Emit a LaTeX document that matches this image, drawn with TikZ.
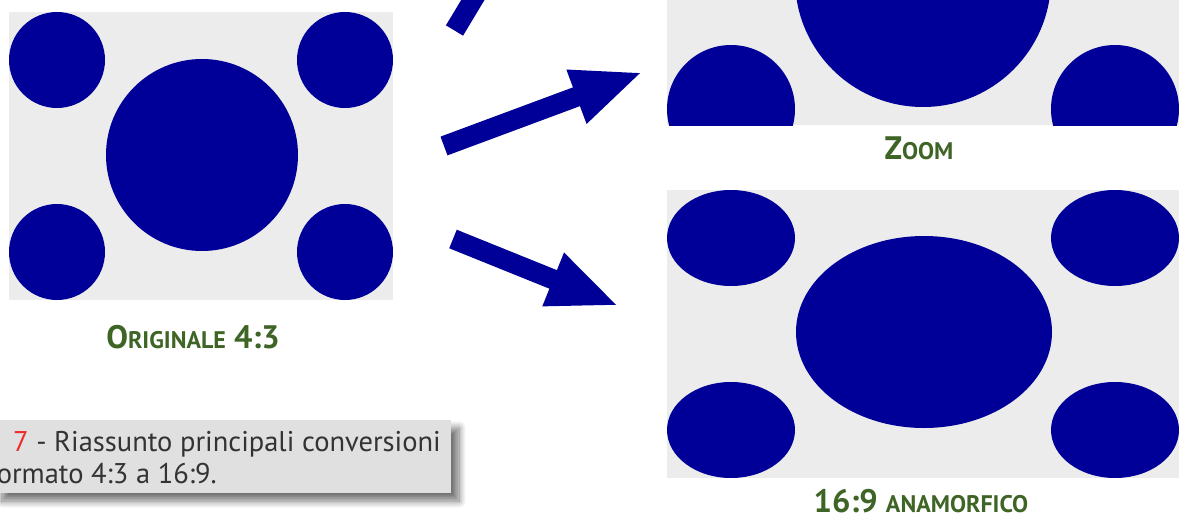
\documentclass[tikz,border=0pt]{standalone}
\usepackage{fontspec}
\setmainfont{PT Sans}
\usetikzlibrary{arrows.meta,shadows.blur}
\definecolor{navy}{HTML}{000099}
\definecolor{panelgray}{HTML}{ECECEC}
\definecolor{labelgreen}{HTML}{3E6426}
\definecolor{captiongray}{HTML}{E0E0E0}
\definecolor{captiontext}{HTML}{333333}
\definecolor{figred}{HTML}{F02828}
\newcommand\capsz{\fontsize{32.5}{38}\selectfont}
\newcommand\scsz{\fontsize{24}{28}\selectfont}
\begin{document}
\begin{tikzpicture}[x=1pt,y=-1pt,
  panel/.style={fill=panelgray, draw=none, inner sep=0pt, outer sep=0pt},
  disc/.style={fill=navy, draw=none},
  label/.style={text=labelgreen, font=\bfseries\capsz, inner sep=0pt, anchor=base},
  bigarrow/.style={draw=navy, line width=20pt, -{Triangle[length=71pt,width=52pt]}},
  capbox/.style={fill=captiongray, draw=none, inner sep=0pt,
    blur shadow={shadow xshift=8pt, shadow yshift=-8pt, shadow blur radius=7pt,
      shadow blur steps=12, shadow opacity=55}},
  captext/.style={text=captiontext, font=\fontsize{28.5}{34}\selectfont, inner sep=0pt}]
\useasboundingbox (0,0) rectangle (1179,519);
\clip (0,0) rectangle (1179,519);

% original 4:3 frame
\node[panel, minimum width=384pt, minimum height=288pt] (orig) at (201,156) {};
\fill[disc] (57,60) circle [radius=48];
\fill[disc] (345,60) circle [radius=48];
\fill[disc] (57,252) circle [radius=48];
\fill[disc] (345,252) circle [radius=48];
\fill[disc] (202,155) circle [radius=96];
\node[label] (origlabel) at (193,348) {O{\scsz RIGINALE} 4:3};

% zoomed frame (cropped top and bottom)
\node[panel, minimum width=512pt, minimum height=288pt] (zoom) at (923,-19) {};
\begin{scope}
  \clip (667,-163) rectangle (1179,125);
  \fill[disc] (731,109) circle [radius=64];
  \fill[disc] (1115,109) circle [radius=64];
  \fill[disc] (923,-21) circle [radius=128];
\end{scope}
\node[label] (zoomlabel) at (919,159) {Z{\scsz OOM}};

% anamorphic 16:9 frame
\node[panel, minimum width=512pt, minimum height=288pt] (anam) at (923,334) {};
\fill[disc] (731,238) ellipse [x radius=64, y radius=48];
\fill[disc] (1115,238) ellipse [x radius=64, y radius=48];
\fill[disc] (731,430) ellipse [x radius=64, y radius=48];
\fill[disc] (1115,430) ellipse [x radius=64, y radius=48];
\fill[disc] (924,332) ellipse [x radius=128, y radius=96];
\node[label] (anamlabel) at (921,512) {16:9 {\scsz ANAMORFICO}};

% conversion arrows
\coordinate (a1s) at (454.5,30.5);
\coordinate (a1e) at (563,-150);
\coordinate (a2s) at (444,146);
\coordinate (a2e) at (643,72);
\coordinate (a3s) at (453,239);
\coordinate (a3e) at (619,306);
\draw[bigarrow] (a1s) -- (a1e);
\draw[bigarrow] (a2s) -- (a2e);
\draw[bigarrow] (a3s) -- (a3e);

% caption
\node[capbox, minimum width=457pt, minimum height=73pt] (caption) at (222.5,456.5) {};
\node[captext, anchor=base west] (capline1) at (13,451) {{\color{figred}7} - Riassunto principali conversioni};
\node[captext, anchor=base east] (capline2) at (217,483) {formato 4:3 a 16:9.};
\end{tikzpicture}
\end{document}
